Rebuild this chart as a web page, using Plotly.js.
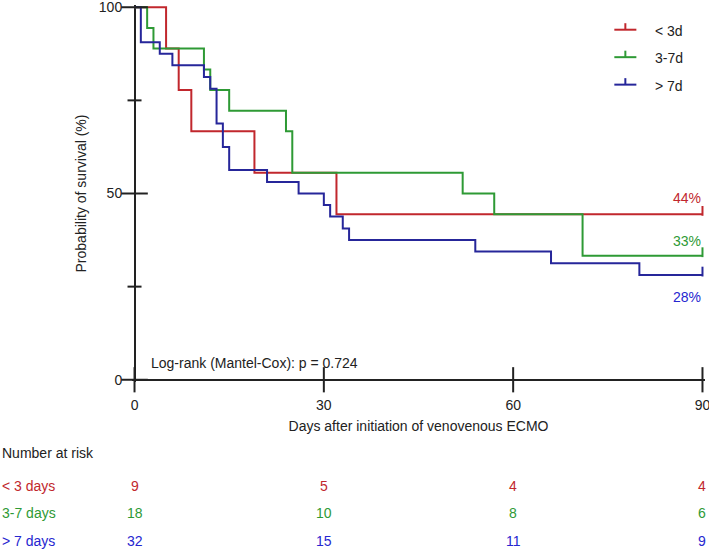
<!DOCTYPE html>
<html><head><meta charset="utf-8">
<script src="https://cdn.plot.ly/plotly-3.0.1.min.js"></script>
<style>html,body{margin:0;padding:0;background:#fff;}#chart{width:709px;height:552px;}</style>
</head><body><div id="chart"></div>
<script>
// ---- data ----
const groups = ['&lt; 3d', '3-7d', '&gt; 7d'];
const riskLabels = ['&lt; 3 days', '3-7 days', '&gt; 7 days'];
const lowDays  = [0, 5, 7, 9, 19, 32, 90];
const lowSurv  = [100, 88.9, 77.8, 66.7, 55.6, 44.4, 44.4];
const midDays  = [0, 2, 3, 11, 12, 15, 24, 25, 52, 57, 71, 90];
const midSurv  = [100, 94.4, 88.9, 83.3, 77.8, 72.2, 66.7, 55.6, 50, 44.4, 33.3, 33.3];
const highDays = [0, 1, 4, 6, 11, 12, 13, 14, 15, 21, 26, 30, 31, 33, 34, 54, 66, 80, 90];
const highSurv = [100, 90.6, 87.5, 84.4, 81.3, 78.1, 68.8, 62.5, 56.3, 53.1, 50, 46.9, 43.8, 40.6, 37.5, 34.4, 31.3, 28.1, 28.1];
const riskTimes = [0, 30, 60, 90];
const riskLow  = [9, 5, 4, 4];
const riskMid  = [18, 10, 8, 6];
const riskHigh = [32, 15, 11, 9];
const xTicks = [0, 30, 60, 90];
const yTicks = [0, 50, 100];
const yMinorTicks = [25, 75];
const pText = 'Log-rank (Mantel-Cox): p = 0.724';

// ---- styling / geometry ----
const lineColors = ['#c1272d', '#2e9a35', '#26269a'];
const textColors = ['#c1272d', '#2e9a35', '#2626d0'];
const FONT = 'Liberation Sans, Arial, Helvetica, sans-serif';
const INK = '#222';
const W = 709, H = 552;
const X0 = 135, X90 = 702, Y0 = 380, Y100 = 7;
const pxPerDay = (X90 - X0) / 90, pxPerPct = (Y0 - Y100) / 100;
const xr = [-0.4, 90.4], yr = [-0.6, 100.6];
const L = X0 + xr[0] * pxPerDay, R = X0 + xr[1] * pxPerDay;
const B = Y0 - yr[0] * pxPerPct, T = Y0 - yr[1] * pxPerPct;
const px = x => (x - L) / (R - L);
const py = y => (B - y) / (B - T);

const series = [[lowDays, lowSurv], [midDays, midSurv], [highDays, highSurv]];
const traces = [];
series.forEach((s, i) => {
  traces.push({x: s[0], y: s[1], type: 'scatter', mode: 'lines',
    line: {shape: 'hv', color: lineColors[i], width: 2}, showlegend: false, hoverinfo: 'skip'});
});
// censor marks at end of follow-up (upward ticks)
const censLen = 7;
series.forEach((s, i) => {
  const n = s[0].length;
  traces.push({x: [s[0][n - 1]], y: [s[1][n - 1] + censLen / 2 / pxPerPct], type: 'scatter', mode: 'markers',
    cliponaxis: false, marker: {symbol: 'line-ns', size: censLen, line: {width: 2, color: lineColors[i]}},
    showlegend: false, hoverinfo: 'skip'});
});
// crossing axis ticks
traces.push({x: yTicks.map(() => 0), y: yTicks, type: 'scatter', mode: 'markers', cliponaxis: false,
  marker: {symbol: 'line-ew', size: 19, line: {width: 2, color: INK}}, showlegend: false, hoverinfo: 'skip'});
traces.push({x: yMinorTicks.map(() => 0), y: yMinorTicks, type: 'scatter', mode: 'markers', cliponaxis: false,
  marker: {symbol: 'line-ew', size: 10, line: {width: 2, color: INK}}, showlegend: false, hoverinfo: 'skip'});
traces.push({x: xTicks, y: xTicks.map(() => 0), type: 'scatter', mode: 'markers', cliponaxis: false,
  marker: {symbol: 'line-ns', size: 18, line: {width: 2, color: INK}}, showlegend: false, hoverinfo: 'skip'});

const annotations = [];
const shapes = [];
// percent labels
const pctShift = [16, 15, -22];
series.forEach((s, i) => {
  const n = s[0].length;
  annotations.push({x: s[0][n - 1], y: s[1][n - 1], xref: 'x', yref: 'y', xanchor: 'right', yanchor: 'middle',
    yshift: pctShift[i], xshift: 1, showarrow: false, text: Math.round(s[1][n - 1]) + '%',
    font: {family: FONT, size: 14, color: textColors[i]}});
});
// log-rank text
annotations.push({x: px(149), y: py(363), xref: 'paper', yref: 'paper', xanchor: 'left', yanchor: 'middle',
  showarrow: false, text: pText, font: {family: FONT, size: 14, color: INK}});
// legend (manual)
const legY = [29.5, 57, 84.5];
groups.forEach((g, i) => {
  shapes.push({type: 'line', xref: 'paper', yref: 'paper', x0: px(614), x1: px(636), y0: py(legY[i]), y1: py(legY[i]),
    line: {color: lineColors[i], width: 2}});
  shapes.push({type: 'line', xref: 'paper', yref: 'paper', x0: px(625), x1: px(625), y0: py(legY[i]), y1: py(legY[i] - 6.5),
    line: {color: lineColors[i], width: 2}});
  annotations.push({x: px(653), y: py(legY[i] + 1), xref: 'paper', yref: 'paper', xanchor: 'left', yanchor: 'middle',
    showarrow: false, text: g, font: {family: FONT, size: 14, color: INK}});
});
// number at risk table
annotations.push({x: px(1), y: py(453), xref: 'paper', yref: 'paper', xanchor: 'left', yanchor: 'middle',
  showarrow: false, text: 'Number at risk', font: {family: FONT, size: 14, color: INK}});
const rowY = [486, 513.5, 541.5];
const riskRows = [riskLow, riskMid, riskHigh];
riskRows.forEach((row, i) => {
  annotations.push({x: px(1), y: py(rowY[i]), xref: 'paper', yref: 'paper', xanchor: 'left', yanchor: 'middle',
    showarrow: false, text: riskLabels[i], font: {family: FONT, size: 14, color: textColors[i]}});
  row.forEach((v, j) => {
    annotations.push({x: riskTimes[j], y: py(rowY[i]), xref: 'x', yref: 'paper', xanchor: 'center', yanchor: 'middle',
      showarrow: false, text: String(v), font: {family: FONT, size: 14, color: textColors[i]}});
  });
});

const layout = {
  width: W, height: H,
  margin: {l: L, r: W - R, t: T, b: H - B, pad: 0},
  paper_bgcolor: '#fff', plot_bgcolor: '#fff',
  font: {family: FONT, size: 14, color: INK},
  showlegend: false, hovermode: false,
  xaxis: {range: xr, tickmode: 'array', tickvals: xTicks, ticks: 'outside', ticklen: 10, tickcolor: 'rgba(0,0,0,0)',
    ticklabeloverflow: 'allow',
    showline: false, showgrid: false, zeroline: true, zerolinecolor: INK, zerolinewidth: 2,
    tickfont: {family: FONT, size: 14, color: INK},
    title: {text: 'Days after initiation of venovenous ECMO', font: {family: FONT, size: 14, color: INK}, standoff: 9}},
  yaxis: {range: yr, tickmode: 'array', tickvals: yTicks, ticks: 'outside', ticklen: 6, tickcolor: 'rgba(0,0,0,0)',
    ticklabeloverflow: 'allow',
    showline: false, showgrid: false, zeroline: true, zerolinecolor: INK, zerolinewidth: 2,
    tickfont: {family: FONT, size: 14, color: INK},
    title: {text: 'Probability of survival (%)', font: {family: FONT, size: 14, color: INK}, standoff: 8}},
  annotations: annotations,
  shapes: shapes
};
Plotly.newPlot('chart', traces, layout, {staticPlot: true, displayModeBar: false});
</script></body></html>
